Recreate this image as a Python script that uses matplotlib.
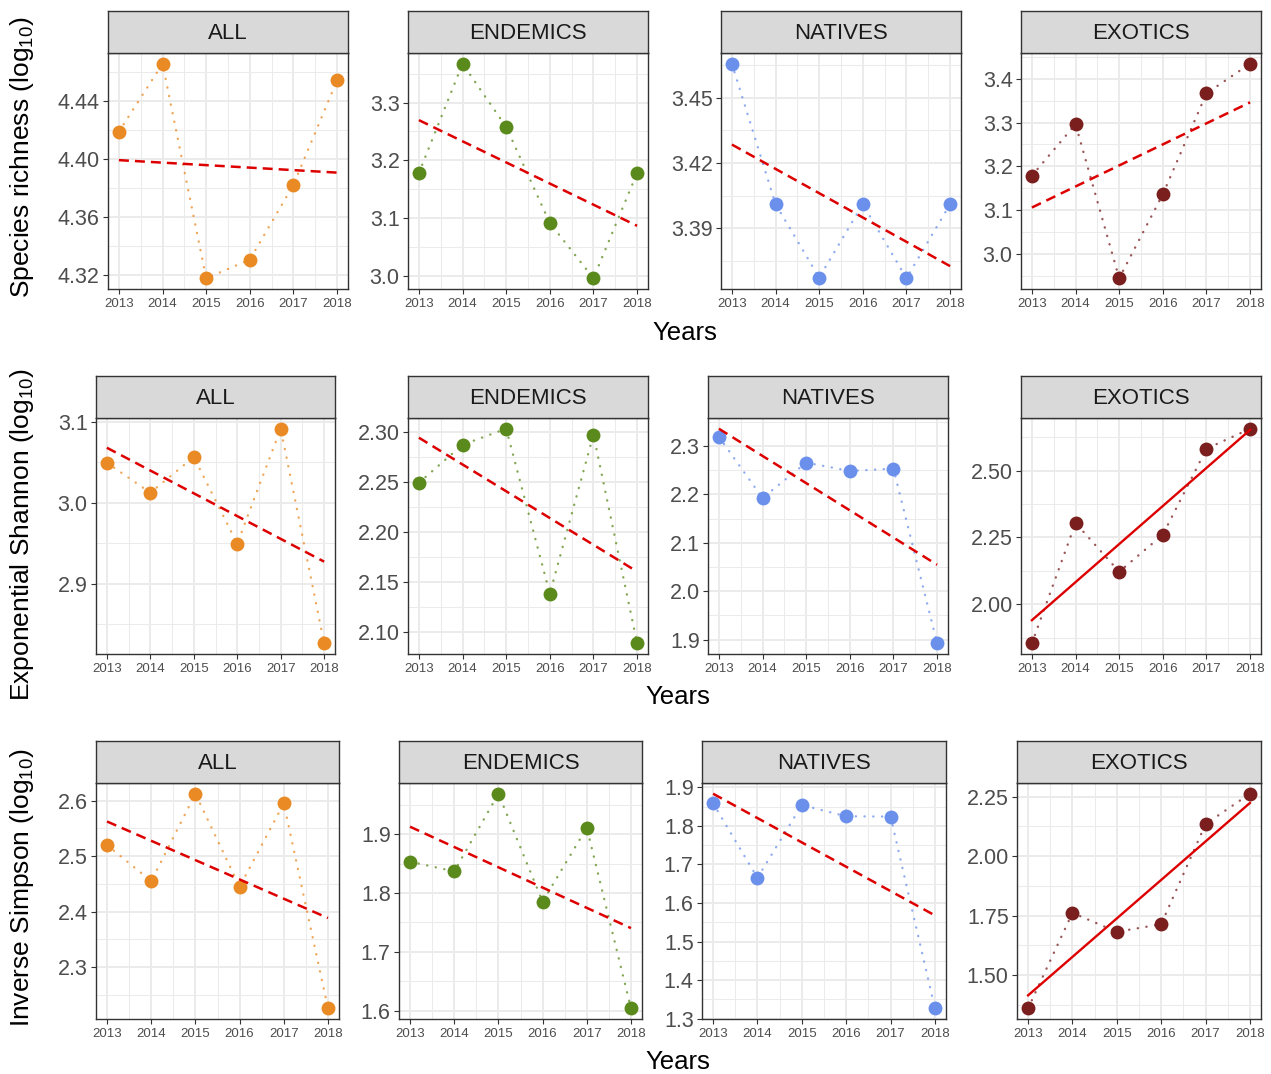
import numpy as np
import matplotlib
matplotlib.use("Agg")
import matplotlib.pyplot as plt

plt.rcParams['font.family'] = ['Liberation Sans', 'DejaVu Sans']
plt.rcParams['mathtext.fontset'] = 'custom'
plt.rcParams['mathtext.rm'] = 'Liberation Sans'
plt.rcParams['mathtext.it'] = 'Liberation Sans:italic'

# ---------------- data ----------------
years = [2013, 2014, 2015, 2016, 2017, 2018]
groups = ["ALL", "ENDEMICS", "NATIVES", "EXOTICS"]
metrics = ["Species richness", "Exponential Shannon", "Inverse Simpson"]

richness_all = [4.419, 4.466, 4.3175, 4.3304, 4.3822, 4.4546]
richness_endemics = [3.178, 3.3675, 3.2579, 3.0913, 2.9954, 3.178]
richness_natives = [3.4657, 3.4011, 3.3673, 3.4011, 3.3670, 3.4011]
richness_exotics = [3.1787, 3.2962, 2.9446, 3.1362, 3.3666, 3.4342]

shannon_all = [3.0494, 3.0123, 3.0564, 2.9494, 3.0914, 2.8263]
shannon_endemics = [2.249, 2.287, 2.303, 2.1383, 2.297, 2.0887]
shannon_natives = [2.3187, 2.1924, 2.2655, 2.2483, 2.253, 1.8924]
shannon_exotics = [1.8538, 2.3038, 2.1213, 2.260, 2.5813, 2.6563]

simpson_all = [2.5199, 2.4548, 2.6127, 2.4446, 2.5952, 2.2253]
simpson_endemics = [1.8531, 1.8367, 1.9684, 1.7853, 1.9107, 1.6045]
simpson_natives = [1.8584, 1.6654, 1.8542, 1.8251, 1.8242, 1.3268]
simpson_exotics = [1.3596, 1.7612, 1.6812, 1.7135, 2.1348, 2.2626]

# y tick breaks per panel
ticks_richness = [[4.32, 4.36, 4.40, 4.44], [3.0, 3.1, 3.2, 3.3],
                  [3.39, 3.42, 3.45], [3.0, 3.1, 3.2, 3.3, 3.4]]
ticks_shannon = [[2.9, 3.0, 3.1], [2.10, 2.15, 2.20, 2.25, 2.30],
                 [1.9, 2.0, 2.1, 2.2, 2.3], [2.00, 2.25, 2.50]]
ticks_simpson = [[2.3, 2.4, 2.5, 2.6], [1.6, 1.7, 1.8, 1.9],
                 [1.3, 1.4, 1.5, 1.6, 1.7, 1.8, 1.9], [1.50, 1.75, 2.00, 2.25]]
decimals_richness = [2, 1, 2, 1]
decimals_shannon = [1, 2, 1, 2]
decimals_simpson = [1, 1, 1, 2]

# fit line style: dashed (non-significant) or solid (significant)
fit_solid_richness = [False, False, False, False]
fit_solid_shannon = [False, False, False, True]
fit_solid_simpson = [False, False, False, True]

group_colors = ["#E98A24", "#5B8A1C", "#6B90EC", "#7A1E1E"]

rows = [
    ([richness_all, richness_endemics, richness_natives, richness_exotics],
     ticks_richness, decimals_richness, fit_solid_richness),
    ([shannon_all, shannon_endemics, shannon_natives, shannon_exotics],
     ticks_shannon, decimals_shannon, fit_solid_shannon),
    ([simpson_all, simpson_endemics, simpson_natives, simpson_exotics],
     ticks_simpson, decimals_simpson, fit_solid_simpson),
]

# ---------------- layout (pixels) ----------------
W, H = 1271, 1074
fig = plt.figure(figsize=(W / 100, H / 100), dpi=100)

row_y = [(11, 53, 289), (376, 418, 654), (741, 783, 1019)]  # strip top, panel top, bottom
col_x = [
    [(108, 348), (408, 648), (721, 961), (1021, 1261)],
    [(96, 335), (408, 648), (708, 948), (1021, 1261)],
    [(96, 339), (399, 642), (702, 946), (1017, 1261)],
]
years_label_pos = [(685, 333), (678, 697), (678, 1062)]
ylabel_y = [157, 535, 888]


def add_ax(l, r, t, b):
    return fig.add_axes([l / W, 1 - b / H, (r - l) / W, (b - t) / H])


grid_col = "#EBEBEB"
border_col = "#333333"

yrs = np.array(years, dtype=float)
for ri, (series, ticks, decs, solids) in enumerate(rows):
    st, pt, pb = row_y[ri]
    for ci in range(4):
        l, r = col_x[ri][ci]
        vals = np.array(series[ci])
        coef = np.polyfit(yrs, vals, 1)
        fit_x = np.array([yrs[0], yrs[-1]])
        fit_y = np.polyval(coef, fit_x)

        ax = add_ax(l, r, pt, pb)
        # ggplot-like 5% expansion
        lo = min(vals.min(), fit_y.min())
        hi = max(vals.max(), fit_y.max())
        pad = 0.05 * (hi - lo)
        ax.set_ylim(lo - pad, hi + pad)
        ax.set_xlim(yrs[0] - 0.25, yrs[-1] + 0.25)

        tk = ticks[ci]
        step = tk[1] - tk[0]
        minors = [t + step / 2 for t in [tk[0] - step] + tk]
        ylo, yhi = ax.get_ylim()
        for m in minors:
            if ylo < m < yhi:
                ax.axhline(m, color=grid_col, lw=0.75, zorder=0)
        for t in tk:
            ax.axhline(t, color=grid_col, lw=1.4, zorder=0)
        for y in years[:-1]:
            ax.axvline(y + 0.5, color=grid_col, lw=0.75, zorder=0)
        for y in years:
            ax.axvline(y, color=grid_col, lw=1.4, zorder=0)

        c = group_colors[ci]
        ax.plot(years, vals, linestyle=(0, (0.1, 3.6)), dash_capstyle='round',
                lw=1.7, color=c, alpha=0.75, zorder=2)
        ax.plot(years, vals, 'o', ms=10, color=c, mec='none', zorder=3)
        if solids[ci]:
            ax.plot(fit_x, fit_y, '-', color="#DD0000", lw=1.7, zorder=4)
        else:
            ax.plot(fit_x, fit_y, linestyle=(0, (4, 2.4)), color="#DD0000",
                    lw=1.8, zorder=4)

        ax.set_yticks(tk)
        ax.set_yticklabels([f"{t:.{decs[ci]}f}" for t in tk])
        ax.set_xticks(years)
        ax.set_xticklabels([str(y) for y in years])
        ax.tick_params(axis='y', labelsize=15.5, length=3.5, width=0.8,
                       color=border_col, labelcolor="#4D4D4D", pad=2.5)
        ax.tick_params(axis='x', labelsize=9.5, length=3.5, width=0.8,
                       color=border_col, labelcolor="#4D4D4D", pad=3)
        for s in ax.spines.values():
            s.set_color(border_col)
            s.set_linewidth(1.0)
        ax.set_facecolor("white")

        sx = add_ax(l, r, st, pt)
        sx.set_facecolor("#D9D9D9")
        sx.set_xticks([])
        sx.set_yticks([])
        for s in sx.spines.values():
            s.set_color(border_col)
            s.set_linewidth(1.0)
        sx.text(0.5, 0.47, groups[ci], ha='center', va='center', fontsize=16,
                color="#1A1A1A", transform=sx.transAxes)

    xl, yl = years_label_pos[ri]
    fig.text(xl / W, 1 - yl / H, "Years", ha='center', va='center', fontsize=18.5,
             color='black')
    fig.text(22 / W, 1 - ylabel_y[ri] / H,
             metrics[ri] + r" (log$\mathregular{_{10}}$)", rotation=90,
             ha='center', va='center', fontsize=19, color='black')

fig.savefig("out.png", dpi=100, facecolor="white")
